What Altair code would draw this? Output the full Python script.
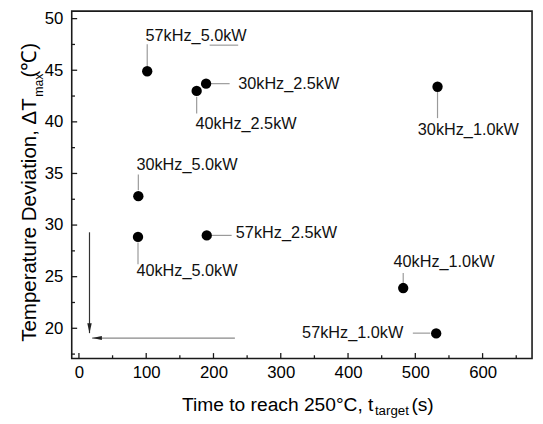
import altair as alt
import pandas as pd

# ---------------- data ----------------
names = ["57kHz_5.0kW", "30kHz_2.5kW", "40kHz_2.5kW", "30kHz_1.0kW", "30kHz_5.0kW",
         "40kHz_5.0kW", "57kHz_2.5kW", "40kHz_1.0kW", "57kHz_1.0kW"]
t_target = [101.5, 189, 175, 533, 88.3, 87.8, 190, 482, 531]
dT_max = [44.9, 43.7, 43.0, 43.4, 32.8, 28.85, 29.0, 23.9, 19.5]

# leader lines (data coordinates)
lead_x1 = [101.5, 196, 175, 533, 88.3, 87.8, 197.7, 482, 496.3, 194.3]
lead_x2 = [101.5, 224, 175, 533, 88.3, 87.8, 227, 482, 522.3, 236.7]
lead_y1 = [45.39, 43.7, 42.43, 43.1, 34.9, 28.31, 29.0, 25.35, 19.53, 47.43]
lead_y2 = [47.52, 43.7, 40.81, 40.36, 33.37, 26.21, 29.0, 24.4, 19.53, 47.43]

# label anchors (data coordinates)
label_x = [99, 236.7, 173.2, 503.7, 85.4, 85.4, 233.2, 467.5, 482.1]
label_y = [48.35, 43.67, 39.79, 39.19, 35.85, 25.57, 29.24, 26.37, 19.53]
label_align = ["left", "left", "left", "left", "left", "left", "left", "left", "right"]

# arrows
arrow_v = {"x": [15.7], "y1": [29.3], "y2": [19.53]}
arrow_h = {"y": [19.05], "x1": [231.8], "x2": [19.5]}

# axis ticks
x_major = [0, 100, 200, 300, 400, 500, 600]
x_minor = [50, 150, 250, 350, 450, 550, 650]
y_major = [20, 25, 30, 35, 40, 45, 50]
y_minor = [17.5, 22.5, 27.5, 32.5, 37.5, 42.5, 47.5]

# ---------------- layout ----------------
W, H = 467.3, 352.7
F = "Liberation Sans"
xs = alt.Scale(domain=[-10.7, 673.5], nice=False, zero=False)
ys = alt.Scale(domain=[17.07, 50.73], nice=False, zero=False)
ax_x = alt.Axis(values=x_major, title=None, ticks=False, domain=False, grid=False,
                labelFontSize=17, labelPadding=6, labelColor="black", labelFont=F)
ax_y = alt.Axis(values=y_major, title=None, ticks=False, domain=False, grid=False,
                labelFontSize=17, labelPadding=9, labelColor="black", labelFont=F)

pts = pd.DataFrame({"name": names, "t": t_target, "dT": dT_max})
leads = pd.DataFrame({"x1": lead_x1, "x2": lead_x2, "y1": lead_y1, "y2": lead_y2})
labs = pd.DataFrame({"name": names, "x": label_x, "y": label_y, "align": label_align})

def xtick_layer(vals, L):
    return alt.Chart(pd.DataFrame({"v": vals})).mark_rule(color="#1a1a1a", strokeWidth=1.3).encode(
        x=alt.X("v:Q", scale=xs, axis=ax_x), y=alt.value(H), y2=alt.value(H - L))

def ytick_layer(vals, L):
    return alt.Chart(pd.DataFrame({"v": vals})).mark_rule(color="#1a1a1a", strokeWidth=1.3).encode(
        y=alt.Y("v:Q", scale=ys, axis=ax_y), x=alt.value(0), x2=alt.value(L))

lead_layer = alt.Chart(leads).mark_rule(color="#9a9a9a", strokeWidth=1.2).encode(
    x=alt.X("x1:Q", scale=xs, axis=ax_x), x2="x2:Q",
    y=alt.Y("y1:Q", scale=ys, axis=ax_y), y2="y2:Q")

vshaft = alt.Chart(pd.DataFrame(arrow_v)).mark_rule(color="#333333", strokeWidth=1.2).encode(
    x=alt.X("x:Q", scale=xs, axis=ax_x), y=alt.Y("y1:Q", scale=ys, axis=ax_y), y2="y2:Q")
vhead = alt.Chart(pd.DataFrame(arrow_v)).mark_point(
    shape="M0,0L-0.45,-2L0.45,-2Z", filled=True, size=100, color="#222222", opacity=1).encode(
    x=alt.X("x:Q", scale=xs, axis=ax_x), y=alt.Y("y2:Q", scale=ys, axis=ax_y))
hshaft = alt.Chart(pd.DataFrame(arrow_h)).mark_rule(color="#888888", strokeWidth=1.2).encode(
    x=alt.X("x1:Q", scale=xs, axis=ax_x), x2="x2:Q", y=alt.Y("y:Q", scale=ys, axis=ax_y))
hhead = alt.Chart(pd.DataFrame(arrow_h)).mark_point(
    shape="M0,0L2,-0.4L2,0.4Z", filled=True, size=100, color="#222222", opacity=1).encode(
    x=alt.X("x2:Q", scale=xs, axis=ax_x), y=alt.Y("y:Q", scale=ys, axis=ax_y))

dots = alt.Chart(pts).mark_circle(size=110, color="black", opacity=1).encode(
    x=alt.X("t:Q", scale=xs, axis=ax_x), y=alt.Y("dT:Q", scale=ys, axis=ax_y))

def label_layer(al):
    return alt.Chart(labs[labs["align"] == al]).mark_text(
        align=al, baseline="middle", fontSize=16.5, font=F, color="#111111").encode(
        x=alt.X("x:Q", scale=xs, axis=ax_x), y=alt.Y("y:Q", scale=ys, axis=ax_y), text="name:N")

def title_text(txt, x, y, size, align="left", angle=0):
    return alt.Chart(pd.DataFrame({"s": [txt]})).mark_text(
        align=align, baseline="alphabetic", fontSize=size, font=F, color="black", angle=angle).encode(
        x=alt.value(x), y=alt.value(y), text="s:N")

titles = [
    title_text("Time to reach 250°C, t", 306.3, 406, 19.5, align="right"),
    title_text("target", 307.8, 410, 13.5),
    title_text("(s)", 344.8, 406, 19.5),
    title_text("Temperature Deviation, ΔT", -36, 88.5, 20.8, align="right", angle=270),
    title_text("max", -29.4, 87, 12.5, angle=270),
    title_text("(℃)", -36, 67.5, 21, angle=270),
]

chart = alt.layer(
    xtick_layer(x_major, 5.5), xtick_layer(x_minor, 3.3),
    ytick_layer(y_major, 5.5), ytick_layer(y_minor, 3.3),
    lead_layer, vshaft, hshaft, vhead, hhead, dots,
    label_layer("left"), label_layer("right"), *titles
).properties(
    width=W, height=H,
    autosize=alt.AutoSizeParams(type="none"),
    padding={"left": 64.7, "top": 0, "right": 3, "bottom": 63},
).configure_view(stroke="#1a1a1a", strokeWidth=1.6)

chart.save("out.html", embed_options={"renderer": "svg", "actions": False})
